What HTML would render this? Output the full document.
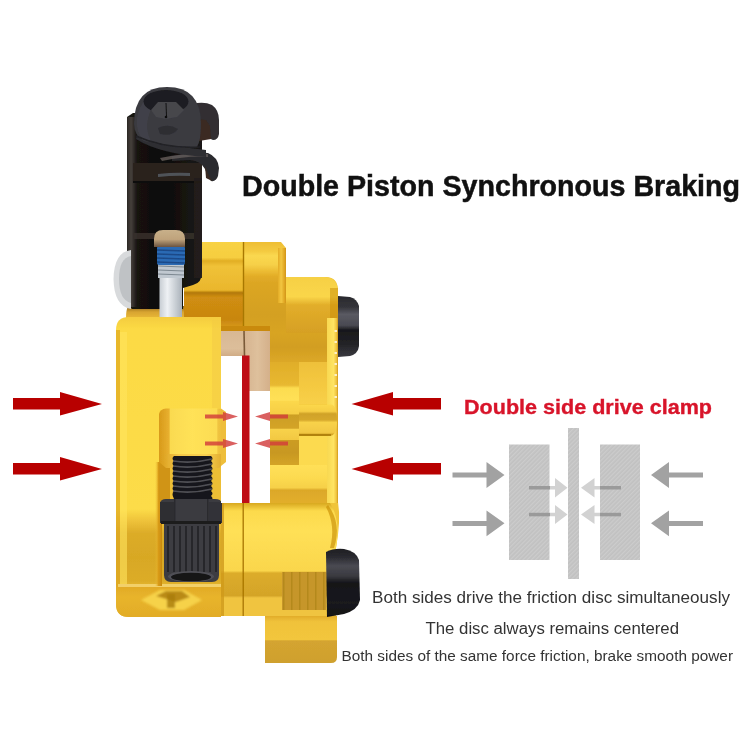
<!DOCTYPE html>
<html><head><meta charset="utf-8">
<style>
html,body{margin:0;padding:0;background:#fff;width:750px;height:750px;overflow:hidden}
svg{display:block}
text{font-family:"Liberation Sans",sans-serif}
</style></head>
<body>
<svg width="750" height="750" viewBox="0 0 750 750">
<defs>
  <linearGradient id="gArmEdge" x1="0" y1="0" x2="1" y2="0"><stop offset="0" stop-color="#2a2624"/><stop offset="0.4" stop-color="#46403c"/><stop offset="1" stop-color="#161412"/></linearGradient>
  <filter id="soft" x="-5%" y="-5%" width="110%" height="110%"><feGaussianBlur stdDeviation="0.6"/></filter>
  <linearGradient id="gLip" x1="0" y1="0" x2="0" y2="1"><stop offset="0" stop-color="#8a6420"/><stop offset="0.5" stop-color="#D8A430"/><stop offset="1" stop-color="#E8B838"/></linearGradient>
  <linearGradient id="gRecess" x1="0" y1="0" x2="1" y2="0"><stop offset="0" stop-color="#F0C23A" stop-opacity="0"/><stop offset="0.5" stop-color="#D89A18"/><stop offset="1" stop-color="#C88A10"/></linearGradient>
  <filter id="blur1" x="-20%" y="-20%" width="140%" height="140%"><feGaussianBlur stdDeviation="1"/></filter>
  <linearGradient id="gTexH" x1="0" y1="0" x2="0" y2="1"><stop offset="0" stop-color="#CC9C20"/><stop offset="0.5" stop-color="#C89820"/><stop offset="1" stop-color="#D4A428"/></linearGradient>
  <linearGradient id="gBandE2" x1="0" y1="0" x2="0" y2="1"><stop offset="0" stop-color="#EEC03A"/><stop offset="0.5" stop-color="#F4C840"/><stop offset="1" stop-color="#F8D048"/></linearGradient>
  <linearGradient id="gCap" x1="0" y1="0" x2="0" y2="1"><stop offset="0" stop-color="#c8b08a"/><stop offset="0.55" stop-color="#bfa37c"/><stop offset="1" stop-color="#6a5440"/></linearGradient>
  <linearGradient id="gTallEdge" x1="0" y1="0" x2="1" y2="0"><stop offset="0" stop-color="#E4AC26"/><stop offset="0.4" stop-color="#F2C640"/><stop offset="0.8" stop-color="#E0A624"/><stop offset="1" stop-color="#D09416"/></linearGradient>
  <linearGradient id="gCylLip" x1="0" y1="0" x2="1" y2="0"><stop offset="0" stop-color="#D89A1A"/><stop offset="0.3" stop-color="#F4C848"/><stop offset="0.7" stop-color="#F8D050"/><stop offset="1" stop-color="#DCA428"/></linearGradient>
  <linearGradient id="gPad" x1="0" y1="0" x2="0" y2="1"><stop offset="0" stop-color="#D8B894"/><stop offset="0.7" stop-color="#DCBE9A"/><stop offset="1" stop-color="#D0AC86"/></linearGradient>
  <linearGradient id="gPad2" x1="0" y1="0" x2="1" y2="0"><stop offset="0" stop-color="#D6B490"/><stop offset="0.5" stop-color="#DEC09C"/><stop offset="1" stop-color="#D4B08A"/></linearGradient>
  <linearGradient id="gTab" x1="0" y1="0" x2="0" y2="1"><stop offset="0" stop-color="#E2AC2A"/><stop offset="0.12" stop-color="#F0C23A"/><stop offset="0.5" stop-color="#F2C63C"/><stop offset="0.53" stop-color="#D4A430"/><stop offset="1" stop-color="#CFA02E"/></linearGradient>
  <linearGradient id="gLowLeft" x1="0" y1="0" x2="1" y2="0"><stop offset="0" stop-color="#E8B42C"/><stop offset="0.5" stop-color="#FFDC50"/><stop offset="1" stop-color="#E2AC26"/></linearGradient>
  <linearGradient id="gBandJ" x1="0" y1="0" x2="0" y2="1"><stop offset="0" stop-color="#FFE058"/><stop offset="0.35" stop-color="#FCDA50"/><stop offset="0.6" stop-color="#F6D048"/><stop offset="0.66" stop-color="#DCA828"/><stop offset="1" stop-color="#E2AE2C"/></linearGradient>
  <linearGradient id="gBandE" x1="0" y1="0" x2="0" y2="1"><stop offset="0" stop-color="#E0AE2A"/><stop offset="0.55" stop-color="#E8B830"/><stop offset="0.62" stop-color="#FCDC50"/><stop offset="0.9" stop-color="#FFE056"/><stop offset="1" stop-color="#F8D44A"/></linearGradient>
  <linearGradient id="gEdge" x1="0" y1="0" x2="1" y2="0"><stop offset="0" stop-color="#F8D850"/><stop offset="0.6" stop-color="#FFE462"/><stop offset="0.85" stop-color="#F0C440"/><stop offset="1" stop-color="#D09818"/></linearGradient>
  <linearGradient id="gTex1" x1="0" y1="0" x2="0" y2="1"><stop offset="0" stop-color="#D8A424"/><stop offset="0.5" stop-color="#D29E20"/><stop offset="1" stop-color="#DCA828"/></linearGradient>
  <linearGradient id="gRTmid" x1="0" y1="0" x2="0" y2="1"><stop offset="0" stop-color="#D5950B"/><stop offset="0.5" stop-color="#CE8E07"/><stop offset="1" stop-color="#CB8E0C"/></linearGradient>
  <linearGradient id="gRight" x1="0" y1="0" x2="1" y2="0">
    <stop offset="0" stop-color="#DEA005"/>
    <stop offset="0.4" stop-color="#EDB20C"/>
    <stop offset="0.85" stop-color="#E8A907"/>
    <stop offset="1" stop-color="#C58400"/>
  </linearGradient>
  <linearGradient id="gRightTop" x1="0" y1="0" x2="0" y2="1"><stop offset="0" stop-color="#EEBE34"/><stop offset="0.1" stop-color="#F4CA40"/><stop offset="0.15" stop-color="#FAD850"/><stop offset="0.25" stop-color="#F6D048"/><stop offset="0.32" stop-color="#ECBC34"/><stop offset="0.38" stop-color="#E2AC26"/><stop offset="0.45" stop-color="#DCA624"/><stop offset="0.8" stop-color="#D4A022"/><stop offset="1" stop-color="#D8A424"/></linearGradient>
  <linearGradient id="gStep" x1="0" y1="0" x2="0" y2="1"><stop offset="0" stop-color="#F6D044"/><stop offset="0.35" stop-color="#FAD64A"/><stop offset="0.5" stop-color="#E2AE2A"/><stop offset="1" stop-color="#D6A024"/></linearGradient>
  <linearGradient id="gLeftUp" x1="0" y1="0" x2="0" y2="1"><stop offset="0" stop-color="#F8D244"/><stop offset="0.18" stop-color="#F6CE40"/><stop offset="0.22" stop-color="#E2AE24"/><stop offset="0.28" stop-color="#F0C238"/><stop offset="0.56" stop-color="#EAB62C"/><stop offset="0.59" stop-color="#B27806"/><stop offset="0.64" stop-color="#D08E12"/><stop offset="0.9" stop-color="#C88610"/><stop offset="1" stop-color="#D89A18"/></linearGradient>
  <linearGradient id="gLowMid" x1="0" y1="0" x2="0" y2="1"><stop offset="0" stop-color="#D8A820"/><stop offset="0.07" stop-color="#FCDA4C"/><stop offset="0.25" stop-color="#FFE056"/><stop offset="0.6" stop-color="#FAD64C"/><stop offset="0.62" stop-color="#DCAC2A"/><stop offset="0.82" stop-color="#D4A428"/><stop offset="0.84" stop-color="#F0C440"/><stop offset="1" stop-color="#F0C440"/></linearGradient>
  <linearGradient id="gBump" x1="0" y1="0" x2="0" y2="1"><stop offset="0" stop-color="#FCD84C"/><stop offset="0.33" stop-color="#F6CE44"/><stop offset="0.36" stop-color="#CC9E24"/><stop offset="0.7" stop-color="#D4A428"/><stop offset="0.72" stop-color="#F8D24A"/><stop offset="1" stop-color="#F2C842"/></linearGradient>
  <linearGradient id="gPin" x1="0" y1="0" x2="0" y2="1"><stop offset="0" stop-color="#FCD84C"/><stop offset="0.22" stop-color="#F6CE44"/><stop offset="0.3" stop-color="#D0A228"/><stop offset="0.5" stop-color="#D6A82C"/><stop offset="0.58" stop-color="#F8D24A"/><stop offset="0.9" stop-color="#F2C844"/><stop offset="1" stop-color="#C89618"/></linearGradient>
  <linearGradient id="gCyl" x1="0" y1="0" x2="1" y2="0"><stop offset="0" stop-color="#D89A1A"/><stop offset="0.15" stop-color="#E8B030"/><stop offset="0.17" stop-color="#FADA50"/><stop offset="0.5" stop-color="#FFE258"/><stop offset="0.86" stop-color="#FCDC52"/><stop offset="0.88" stop-color="#F0C440"/><stop offset="1" stop-color="#EAB838"/></linearGradient>
  <linearGradient id="gBottom" x1="0" y1="0" x2="0" y2="1"><stop offset="0" stop-color="#E0A824"/><stop offset="0.4" stop-color="#E8B42C"/><stop offset="1" stop-color="#E2AC26"/></linearGradient>
  <linearGradient id="gShaft" x1="0" y1="0" x2="1" y2="0">
    <stop offset="0" stop-color="#c7cdd3"/>
    <stop offset="0.35" stop-color="#eef1f4"/>
    <stop offset="1" stop-color="#aab2ba"/>
  </linearGradient>
  <linearGradient id="gKnob" x1="0" y1="0" x2="0" y2="1"><stop offset="0" stop-color="#2a2a2e"/><stop offset="0.18" stop-color="#34343a"/><stop offset="0.3" stop-color="#5a5a62"/><stop offset="0.48" stop-color="#4a4a52"/><stop offset="0.56" stop-color="#18181b"/><stop offset="0.78" stop-color="#222226"/><stop offset="1" stop-color="#3a3a40"/></linearGradient>
  <linearGradient id="gKnob2" x1="0" y1="0" x2="0" y2="1"><stop offset="0" stop-color="#1e1e22"/><stop offset="0.12" stop-color="#2a2a30"/><stop offset="0.25" stop-color="#4a4a52"/><stop offset="0.4" stop-color="#3a3a40"/><stop offset="0.5" stop-color="#151518"/><stop offset="0.8" stop-color="#1a1a1e"/><stop offset="1" stop-color="#101012"/></linearGradient>
  <pattern id="vstripe" width="8" height="8" patternUnits="userSpaceOnUse">
    <rect width="8" height="8" fill="none"/>
    <rect x="3" width="1.5" height="8" fill="#8a6a00"/>
  </pattern>

  <linearGradient id="gFace" x1="0" y1="0" x2="0" y2="1"><stop offset="0" stop-color="#F4CC40"/><stop offset="0.04" stop-color="#FCDA44"/><stop offset="0.64" stop-color="#FCDC48"/><stop offset="0.68" stop-color="#EEC23A"/><stop offset="0.72" stop-color="#DCAC28"/><stop offset="0.8" stop-color="#D8A824"/><stop offset="0.88" stop-color="#DCAC28"/><stop offset="0.9" stop-color="#E6B832"/><stop offset="1" stop-color="#E6B832"/></linearGradient>
  <linearGradient id="gBody" x1="0" y1="0" x2="1" y2="0">
    <stop offset="0" stop-color="#D5960A"/>
    <stop offset="0.5" stop-color="#EDB112"/>
    <stop offset="1" stop-color="#D09007"/>
  </linearGradient>
  <linearGradient id="gBlack" x1="0" y1="0" x2="1" y2="0"><stop offset="0" stop-color="#161412"/><stop offset="0.5" stop-color="#0e0d0c"/><stop offset="1" stop-color="#1a1715"/></linearGradient>
  <pattern id="hatch" width="3" height="3" patternUnits="userSpaceOnUse" patternTransform="rotate(45)">
    <rect width="3" height="3" fill="#C1C1C1"/>
    <rect width="1.3" height="3" fill="#CCCCCC"/>
  </pattern>
</defs>
<rect width="750" height="750" fill="#fff"/>

<g filter="url(#soft)">
<!-- ===== Caliper ===== -->
<!-- A: top tall piece (right half) -->
<path d="M243 277 L326 277 Q338 277 338 291 L338 502 Q341 520 336 548 L336 616 L243 616 Z" fill="#F0C438"/>
<path d="M243 242 L281 242 L286 248 L286 333 L243 333 Z" fill="url(#gRightTop)"/>
<rect x="278" y="248" width="8" height="55" fill="url(#gTallEdge)"/>
<!-- B: step -->
<path d="M286 277 L325 277 Q338 278 338 292 L338 333 L286 333 Z" fill="url(#gStep)"/>
<rect x="330" y="288" width="8" height="40" fill="#C88C06" opacity="0.5"/>
<!-- C: textured darker -->
<rect x="243" y="333" width="85" height="29" fill="url(#gTex1)"/>
<!-- E: region above bump -->
<rect x="270" y="362" width="29" height="42" fill="url(#gBandE)"/>
<rect x="299" y="362" width="28" height="42" fill="url(#gBandE2)"/>
<!-- D: right edge strip -->
<rect x="327" y="318" width="11" height="185" fill="url(#gEdge)"/>
<g fill="#fff" opacity="0.7">
  <rect x="334.5" y="330" width="2.5" height="2"/><rect x="334.5" y="341" width="2.5" height="2"/><rect x="334.5" y="352" width="2.5" height="2"/>
  <rect x="334.5" y="363" width="2.5" height="2"/><rect x="334.5" y="374" width="2.5" height="2"/><rect x="334.5" y="385" width="2.5" height="2"/>
  <rect x="334.5" y="396" width="2.5" height="2"/>
</g>
<!-- G: bump -->
<rect x="270" y="401" width="29" height="39" fill="url(#gBump)"/>
<!-- H: darker textured -->
<rect x="270" y="440" width="29" height="25" fill="url(#gTexH)"/>
<!-- I -->
<rect x="299" y="436" width="28" height="29" fill="#FCDA50"/>
<!-- J bands -->
<rect x="270" y="465" width="57" height="38" fill="url(#gBandJ)"/>
<!-- F: piston pin -->
<path d="M299 404.5 L331 404.5 Q337 405 337 420 Q337 435 331 435.5 L299 435.5 Z" fill="url(#gPin)"/>
<rect x="299" y="434" width="32" height="2" fill="#A87808" opacity="0.8"/>

<!-- left half upper -->
<rect x="184" y="242" width="59" height="86" fill="url(#gLeftUp)"/>
<line x1="243.5" y1="242" x2="243.5" y2="330" stroke="#A87800" stroke-width="1.4"/>

<!-- lower middle body -->
<path d="M221 503 L330 503 Q341 520 336 548 L336 616 L221 616 Z" fill="url(#gLowMid)"/>
<path d="M328 505 Q342 524 334 548 L330 548 Q336 526 326 507 Z" fill="#C58800" opacity="0.6"/>
<rect x="221" y="503" width="3" height="113" fill="#D09A1C" opacity="0.8"/>
<line x1="243.2" y1="503" x2="243.2" y2="616" stroke="#A87400" stroke-width="1.3"/>
<!-- lower tab -->
<path d="M265 616 L337 616 L337 657 Q337 663 331 663 L265 663 Z" fill="url(#gTab)"/>
<!-- textured square -->
<rect x="282" y="572" width="44" height="38" fill="#C6962A"/>
<rect x="282" y="572" width="44" height="38" fill="url(#vstripe)" opacity="0.3"/>

<path d="M128 306 L184 306 L184 318 L126 318 Q126 310 128 306 Z" fill="url(#gLip)"/>
<!-- black arm -->
<path d="M127 117 L133 113 L199 113 L202 118 L202 272 Q202 283 193 285 L183 288 L183 309 L132 309 L127 303 Z" fill="url(#gBlack)"/>
<rect x="127" y="117" width="10" height="190" fill="url(#gArmEdge)"/>
<rect x="133" y="163" width="69" height="20" fill="#2a221f"/>
<path d="M158 174 Q175 172 190 173 L190 176 Q175 175 158 177 Z" fill="#5a6068" opacity="0.8"/><rect x="133" y="181" width="69" height="2" fill="#0e0c0b"/>
<rect x="133" y="233" width="69" height="6" fill="#36302b" opacity="0.9"/>
<rect x="194" y="178" width="8" height="100" fill="#221e1b" opacity="0.9"/>
<!-- clip -->
<path d="M192 104 Q204 101 212 105 Q219 110 219 120 L219 134 Q218 140 213 140 Q209 139 209 132 L209 126 Q206 119 197 121 Z" fill="#302f33"/>
<path d="M199 119 L206 120 L210 126 L211 139 L199 141 Z" fill="#3a2a22"/>
<path d="M172 156 Q196 151 208 153 Q218 157 219 168 L218 176 Q216 182 211 181 Q207 176 205 169 Q201 161 190 160 L172 161 Z" fill="#2c2b2e"/>
<path d="M160 158 Q190 152 208 154 L208 157 Q190 155 162 161 Z" fill="#625a58" opacity="0.85"/>
<path d="M205 166 L209 176 L212 181 L206 178 Z" fill="#3a2a22"/>
<!-- ball -->
<path d="M136 139 Q160 154 206 157 L206 150 Q170 147 138 132 Z" fill="#2e2e33"/>
<path d="M134 124 Q134 87 167 87 Q201 87 201 124 Q201 140 197 147 Q170 148 144 141 Q134 135 134 124 Z" fill="#3a3a40"/>
<path d="M137 118 Q141 94 166 90 Q150 102 147 124 Q147 134 151 141 L143 139 Q136 133 137 118 Z" fill="#45454b" opacity="0.7"/>
<ellipse cx="166" cy="101.5" rx="22.5" ry="11.5" fill="#1c1c20"/>
<path d="M151 110 L158 102 L176 102 L184 110 L177 117 L166 119 L156 117 Z" fill="#46464c"/>
<path d="M166 103 L166.5 116" stroke="#111" stroke-width="1"/>
<circle cx="166" cy="117" r="1.3" fill="#111"/>
<path d="M158 128 Q168 123 178 129 Q172 137 160 134 Z" fill="#2a2a2f" opacity="0.8"/>
<path d="M136 136 Q165 149 200 147" stroke="#222226" stroke-width="1.5" fill="none"/>
<!-- washer -->
<path d="M131 250 Q114 252 113.5 279 Q114 306 131 309 Z" fill="#d8dadc"/>
<path d="M131 256 Q119 258 119 279 Q119 300 131 303 Z" fill="#bfc2c5"/>
<!-- bolt -->
<rect x="159.5" y="264" width="22.5" height="54" fill="url(#gShaft)"/>
<rect x="158" y="263" width="26" height="15" fill="#c0c8d0"/>
<g stroke="#7d8891" stroke-width="1.2">
  <line x1="158" y1="266" x2="184" y2="267"/><line x1="158" y1="270" x2="184" y2="271"/><line x1="158" y1="274" x2="184" y2="275"/>
</g>
<rect x="157" y="246" width="28" height="19" rx="2" fill="#2c6ab4"/>
<g stroke="#1a4a88" stroke-width="1.3">
  <line x1="157" y1="250" x2="185" y2="251"/><line x1="157" y1="254" x2="185" y2="255"/><line x1="157" y1="258" x2="185" y2="259"/><line x1="157" y1="262" x2="185" y2="263"/>
</g>
<path d="M154 247 L154 239 Q154 230 163 230 L176 230 Q185 230 185 239 L185 247 Z" fill="url(#gCap)"/>
<!-- lower left gold block -->
<path d="M129 317 L221 317 L221 617 L129 617 Q116 617 116 604 L116 330 Q116 317 129 317 Z" fill="url(#gFace)"/>
<rect x="116" y="330" width="4" height="254" fill="#E0A820" opacity="0.7"/><rect x="120" y="332" width="7" height="252" fill="#FFE45E" opacity="0.6"/>
<path d="M116 584 L221 584 L221 617 L129 617 Q116 617 116 604 Z" fill="url(#gBottom)"/>
<rect x="118" y="584" width="103" height="3" fill="#F6DA7A" opacity="0.8"/>
<g filter="url(#blur1)"><path d="M141 600 L160 590 L184 590 L202 600 L184 610 L160 610 Z" fill="#F6D24A"/>
<path d="M156 596 L166 591 L182 591 L190 597 L176 602 Z" fill="#B98A12"/>
<rect x="167" y="594" width="8" height="14" fill="#A87A0A" opacity="0.8"/>
</g>
<path d="M155 462 L162 462 L162 586 L155 586 Z" fill="url(#gRecess)"/>
<rect x="212" y="320" width="9" height="88" fill="#F4CC44" opacity="0.6"/>
<!-- cylinder -->
<rect x="159" y="455" width="62" height="45" fill="#EDBE36"/>
<rect x="159" y="462" width="11" height="38" fill="#C88A0C" opacity="0.8"/>
<path d="M159 414 Q160 409 166 408.5 L221 408.5 L226 412 L226 454 L159 454 Z" fill="url(#gCyl)"/>
<path d="M159 454 L226 454 L226 462 L219 468 L166 468 L159 462 Z" fill="url(#gCylLip)"/>
<!-- threads -->
<path d="M174 456 L211 456 Q214 458.5 211 461.0 Q214 463.5 211 466.0 Q214 468.5 211 471.0 Q214 473.5 211 476.0 Q214 478.5 211 481.0 Q214 483.5 211 486.0 Q214 488.5 211 491.0 Q214 493.5 211 496.0 Q214 498.5 211 501.0 L211 499 L174 499 Q171 493.5 174 491.0 Q171 488.5 174 486.0 Q171 483.5 174 481.0 Q171 478.5 174 476.0 Q171 473.5 174 471.0 Q171 468.5 174 466.0 Q171 463.5 174 461.0 Q171 458.5 174 456.0 Z" fill="#18181a"/>
<g stroke="#505056" stroke-width="1.6" fill="none">
  <path d="M173 461 Q192 464 212 459"/><path d="M173 466 Q192 469 212 464"/><path d="M173 471 Q192 474 212 469"/>
  <path d="M173 476 Q192 479 212 474"/><path d="M173 481 Q192 484 212 479"/><path d="M173 486 Q192 489 212 484"/>
  <path d="M173 491 Q192 494 212 489"/>
</g>
<!-- hex nut -->
<path d="M160 503 Q161 499 166 499 L215 499 Q221 499 222 503 L222 523 L160 523 Z" fill="#3a3a40"/>
<rect x="160" y="502" width="14" height="21" fill="#2e2e33"/>
<rect x="174" y="499" width="1.5" height="24" fill="#2a2a2e"/>
<rect x="207" y="499" width="1.5" height="24" fill="#2a2a2e"/>
<rect x="208.5" y="502" width="13.5" height="21" fill="#323237"/>
<rect x="161" y="521" width="60" height="3" fill="#1c1c1f"/>
<!-- knurled -->
<path d="M164 524 L219 524 L219 575 Q219 582 212 582 L171 582 Q164 582 164 575 Z" fill="#3c3c42"/>
<g stroke="#26262a" stroke-width="2">
  <line x1="168" y1="526" x2="168" y2="572"/><line x1="174" y1="526" x2="174" y2="572"/><line x1="180" y1="526" x2="180" y2="572"/>
  <line x1="186" y1="526" x2="186" y2="572"/><line x1="192" y1="526" x2="192" y2="572"/><line x1="198" y1="526" x2="198" y2="572"/>
  <line x1="204" y1="526" x2="204" y2="572"/><line x1="210" y1="526" x2="210" y2="572"/><line x1="216" y1="526" x2="216" y2="572"/>
</g>
<ellipse cx="191" cy="576.5" rx="23" ry="5.5" fill="#505056"/>
<ellipse cx="191" cy="577" rx="20" ry="4.3" fill="#141416"/>

<!-- gap & pads -->
<rect x="221" y="326" width="49" height="6" fill="#C98A10"/>
<rect x="221" y="331" width="24" height="25" fill="url(#gPad)"/>
<rect x="245" y="331" width="25" height="60" fill="url(#gPad2)"/>
<rect x="221" y="356" width="21" height="147" fill="#fff"/>
<rect x="249" y="391" width="21" height="112" fill="#fff"/>
<line x1="244" y1="331" x2="244.5" y2="356" stroke="#7a5a38" stroke-width="1.6"/>
<rect x="242" y="355.5" width="7.5" height="147.5" fill="#BE0A12"/>
<path d="M221 408.5 L221 408.5 L226 412 L226 462 L221 466 Z" fill="#EEBE3A"/>
<!-- knobs -->
<path d="M338 296 L350 297 Q357 299 359 306 L359 346 Q358 354 350 356 L338 357 Z" fill="url(#gKnob)"/>
<path d="M326 552 Q334 548 344 549 Q356 551 359 560 L360 600 Q358 610 344 614 L327 617 Z" fill="url(#gKnob2)"/>

<!-- small translucent arrows -->
<g fill="#D23A3A" opacity="0.8">
  <path d="M205 414.5 L223 414.5 L223 412 L238 416.5 L223 421 L223 418.5 L205 418.5 Z"/>
  <path d="M205 441.5 L223 441.5 L223 439 L238 443.5 L223 448 L223 445.5 L205 445.5 Z"/>
  <path d="M288 414.5 L270 414.5 L270 412 L255 416.5 L270 421 L270 418.5 L288 418.5 Z"/>
  <path d="M288 441.5 L270 441.5 L270 439 L255 443.5 L270 448 L270 445.5 L288 445.5 Z"/>
</g>

</g>
<!-- ===== Big red arrows ===== -->
<g fill="#B80000">
  <path d="M13 398 L60 398 L60 392 L102 404 L60 415.5 L60 409.5 L13 409.5 Z"/>
  <path d="M13 463 L60 463 L60 457 L102 469 L60 480.5 L60 474.5 L13 474.5 Z"/>
  <path d="M441 398 L393 398 L393 392 L351.5 404 L393 415.5 L393 409.5 L441 409.5 Z"/>
  <path d="M441 463 L393 463 L393 457 L351.5 469 L393 480.5 L393 474.5 L441 474.5 Z"/>
</g>

<!-- ===== Diagram ===== -->
<rect x="509" y="444.5" width="40.5" height="115.5" fill="url(#hatch)"/>
<rect x="600" y="444.5" width="40" height="115.5" fill="url(#hatch)"/>
<rect x="568" y="428" width="11" height="151" fill="url(#hatch)"/>
<g fill="#A2A2A2">
  <path d="M452.5 472.5 L486.5 472.5 L486.5 462 L504.5 475 L486.5 488 L486.5 477.5 L452.5 477.5 Z"/>
  <path d="M452.5 521 L486.5 521 L486.5 510.5 L504.5 523.3 L486.5 536.3 L486.5 526 L452.5 526 Z"/>
  <path d="M703 472.5 L669 472.5 L669 462 L651 475 L669 488 L669 477.5 L703 477.5 Z"/>
  <path d="M703 521 L669 521 L669 510.5 L651 523.3 L669 536.3 L669 526 L703 526 Z"/>
</g>
<g>
  <rect x="529" y="486" width="21" height="3.5" fill="#9A9A9A"/>
  <rect x="529" y="512.8" width="21" height="3.5" fill="#9A9A9A"/>
  <rect x="600" y="486" width="21" height="3.5" fill="#9A9A9A"/>
  <rect x="600" y="512.8" width="21" height="3.5" fill="#9A9A9A"/>
  <g fill="#D2D2D2">
    <path d="M550 486 L555 486 L555 478 L567.5 487.8 L555 497.5 L555 489.5 L550 489.5 Z"/>
    <path d="M550 512.8 L555 512.8 L555 505 L567.5 514.5 L555 524 L555 516.3 L550 516.3 Z"/>
    <path d="M600 486 L594.5 486 L594.5 478 L581 487.8 L594.5 497.5 L594.5 489.5 L600 489.5 Z"/>
    <path d="M600 512.8 L594.5 512.8 L594.5 505 L581 514.5 L594.5 524 L594.5 516.3 L600 516.3 Z"/>
  </g>
</g>

<!-- ===== Text ===== -->
<text x="242" y="196" font-size="29" font-weight="bold" fill="#111" stroke="#111" stroke-width="0.5" textLength="498" lengthAdjust="spacingAndGlyphs">Double Piston Synchronous Braking</text>
<text x="464" y="413.6" font-size="20.8" font-weight="bold" fill="#D8142A" stroke="#D8142A" stroke-width="0.35" textLength="248" lengthAdjust="spacingAndGlyphs">Double side drive clamp</text>
<text x="372" y="602.7" font-size="16.3" fill="#333" textLength="358" lengthAdjust="spacingAndGlyphs">Both sides drive the friction disc simultaneously</text>
<text x="425.5" y="633.7" font-size="16" fill="#333" textLength="253.5" lengthAdjust="spacingAndGlyphs">The disc always remains centered</text>
<text x="341.5" y="661.3" font-size="15.3" fill="#333" textLength="391.5" lengthAdjust="spacingAndGlyphs">Both sides of the same force friction, brake smooth power</text>
</svg>
</body></html>
